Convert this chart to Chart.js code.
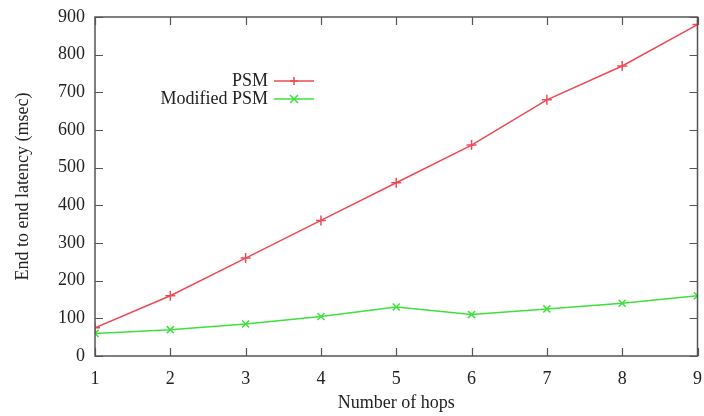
<!DOCTYPE html>
<html>
<head>
<meta charset="utf-8">
<script src="https://cdn.jsdelivr.net/npm/chart.js@4"></script>
<style>
  html, body { margin: 0; padding: 0; background: #fff; }
  #wrap { width: 704px; height: 416px; }
</style>
</head>
<body>
<div id="wrap"><canvas id="chart" width="704" height="416"></canvas></div>
<script>
const hops = [1, 2, 3, 4, 5, 6, 7, 8, 9];
const psm = [75, 160, 260, 360, 460, 560, 680, 770, 880];
const modifiedPsm = [60, 70, 85, 105, 130, 110, 125, 140, 160];
const yTicks = [0, 100, 200, 300, 400, 500, 600, 700, 800, 900];

const FONT = "'Liberation Serif', 'Times New Roman', serif";
const AXIS = "#555";

// gnuplot style: inward ticks on all four sides, box border
const innerTicks = {
    id: "innerTicks",
    afterDraw(chart) {
        const { ctx, chartArea: a, scales: { x, y } } = chart;
        ctx.save();
        ctx.strokeStyle = AXIS;
        ctx.lineWidth = 1.2;
        ctx.beginPath();
        hops.forEach(v => {
            const px = Math.round(x.getPixelForValue(v)) + 0.5;
            ctx.moveTo(px, a.bottom); ctx.lineTo(px, a.bottom - 8);
            ctx.moveTo(px, a.top); ctx.lineTo(px, a.top + 8);
        });
        yTicks.forEach(v => {
            const py = Math.round(y.getPixelForValue(v)) + 0.5;
            ctx.moveTo(a.left, py); ctx.lineTo(a.left + 8, py);
            ctx.moveTo(a.right, py); ctx.lineTo(a.right - 8, py);
        });
        ctx.stroke();
        ctx.lineWidth = 1.5;
        ctx.strokeRect(a.left, a.top, a.right - a.left, a.bottom - a.top);
        ctx.restore();
    }
};

// key in the upper left, text right-aligned then sample
const innerKey = {
    id: "innerKey",
    afterDraw(chart) {
        const { ctx } = chart;
        const textRight = 268, x0 = 274, x1 = 314;
        ctx.save();
        ctx.font = "18px " + FONT;
        ctx.textAlign = "right";
        ctx.textBaseline = "middle";
        chart.data.datasets.forEach((ds, i) => {
            const yy = 81 + i * 18;
            ctx.fillStyle = "#222";
            ctx.fillText(ds.label, textRight, yy);
            ctx.strokeStyle = ds.borderColor;
            ctx.lineWidth = 1.5;
            ctx.beginPath();
            ctx.moveTo(x0, yy); ctx.lineTo(x1, yy);
            ctx.stroke();
            const cx = (x0 + x1) / 2, r = 4;
            ctx.beginPath();
            if (ds.pointStyle === "cross") {
                ctx.moveTo(cx - r, yy); ctx.lineTo(cx + r, yy);
                ctx.moveTo(cx, yy - r); ctx.lineTo(cx, yy + r);
            } else {
                ctx.moveTo(cx - r, yy - r); ctx.lineTo(cx + r, yy + r);
                ctx.moveTo(cx - r, yy + r); ctx.lineTo(cx + r, yy - r);
            }
            ctx.stroke();
        });
        ctx.restore();
    }
};

new Chart(document.getElementById("chart"), {
    type: "line",
    data: {
        datasets: [
            {
                label: "PSM",
                data: hops.map((h, i) => ({ x: h, y: psm[i] })),
                borderColor: "#ee4a55",
                pointStyle: "cross",
                pointRadius: 5,
                pointBorderWidth: 1.5,
                borderWidth: 1.5,
                tension: 0
            },
            {
                label: "Modified PSM",
                data: hops.map((h, i) => ({ x: h, y: modifiedPsm[i] })),
                borderColor: "#3ee03e",
                pointStyle: "crossRot",
                pointRadius: 5,
                pointBorderWidth: 1.5,
                borderWidth: 1.5,
                tension: 0
            }
        ]
    },
    options: {
        responsive: false,
        animation: false,
        layout: { padding: { left: 8, right: 6, top: 17, bottom: 0 } },
        plugins: { legend: { display: false }, tooltip: { enabled: false } },
        scales: {
            x: {
                type: "linear",
                min: 1, max: 9,
                afterFit: s => { s.height = 60; s.paddingLeft = 0; s.paddingRight = 0; },
                afterBuildTicks: s => { s.ticks = hops.map(v => ({ value: v })); },
                grid: { display: false },
                border: { display: false },
                ticks: { color: "#222", padding: 4, font: { family: FONT, size: 18 } },
                title: { display: true, text: "Number of hops", color: "#222", padding: { top: 7, bottom: 2 }, font: { family: FONT, size: 18 } }
            },
            y: {
                min: 0, max: 900,
                afterFit: s => { s.width = 87; s.paddingTop = 0; s.paddingBottom = 0; },
                afterBuildTicks: s => { s.ticks = yTicks.map(v => ({ value: v })); },
                grid: { display: false },
                border: { display: false },
                ticks: { color: "#222", padding: 2, font: { family: FONT, size: 18 } },
                title: { display: true, text: "End to end latency (msec)", color: "#222", padding: { bottom: 4 }, font: { family: FONT, size: 18 } }
            }
        }
    },
    plugins: [innerTicks, innerKey]
});
</script>
</body>
</html>
